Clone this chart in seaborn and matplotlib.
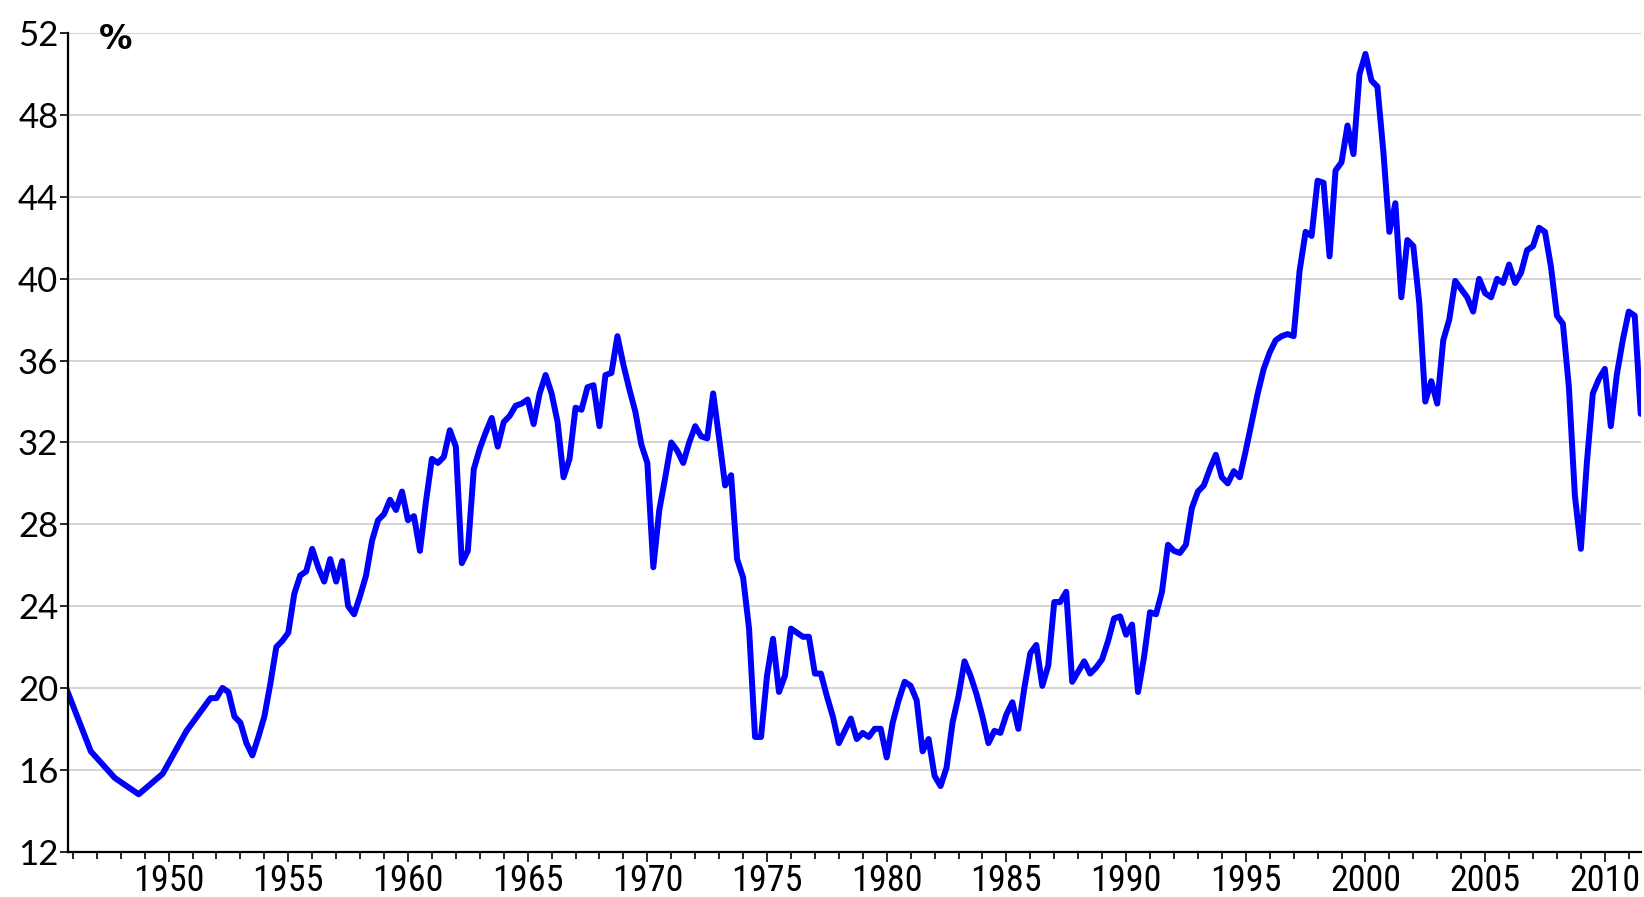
import numpy as np
import pandas as pd
import matplotlib
matplotlib.use("Agg")
from matplotlib import pyplot as plt
from matplotlib import font_manager
from matplotlib.ticker import MultipleLocator
import seaborn as sns

# annual readings (plotted at Q4) before quarterly data starts
annual_years = [1945.75, 1946.75, 1947.75, 1948.75, 1949.75, 1950.75]
annual_vals = [19.9, 16.9, 15.6, 14.8, 15.8, 17.9]

# quarterly readings from 1951 Q4 to 2011 Q3
quarter_start = 1951.75
quarter_vals = [
    19.5,
    19.5, 20.0, 19.8, 18.6,   # 1952
    18.3, 17.3, 16.7, 17.6,   # 1953
    18.6, 20.2, 22.0, 22.3,   # 1954
    22.7, 24.6, 25.5, 25.7,   # 1955
    26.8, 25.9, 25.2, 26.3,   # 1956
    25.2, 26.2, 24.0, 23.6,   # 1957
    24.5, 25.5, 27.2, 28.2,   # 1958
    28.5, 29.2, 28.7, 29.6,   # 1959
    28.2, 28.4, 26.7, 29.1,   # 1960
    31.2, 31.0, 31.3, 32.6,   # 1961
    31.8, 26.1, 26.7, 30.7,   # 1962
    31.7, 32.5, 33.2, 31.8,   # 1963
    33.0, 33.3, 33.8, 33.9,   # 1964
    34.1, 32.9, 34.4, 35.3,   # 1965
    34.4, 33.0, 30.3, 31.2,   # 1966
    33.7, 33.6, 34.7, 34.8,   # 1967
    32.8, 35.3, 35.4, 37.2,   # 1968
    35.8, 34.6, 33.5, 31.9,   # 1969
    31.0, 25.9, 28.7, 30.3,   # 1970
    32.0, 31.6, 31.0, 32.0,   # 1971
    32.8, 32.3, 32.2, 34.4,   # 1972
    32.2, 29.9, 30.4, 26.3,   # 1973
    25.4, 22.9, 17.6, 17.6,   # 1974
    20.6, 22.4, 19.8, 20.6,   # 1975
    22.9, 22.7, 22.5, 22.5,   # 1976
    20.7, 20.7, 19.6, 18.6,   # 1977
    17.3, 17.9, 18.5, 17.5,   # 1978
    17.8, 17.6, 18.0, 18.0,   # 1979
    16.6, 18.3, 19.4, 20.3,   # 1980
    20.1, 19.4, 16.9, 17.5,   # 1981
    15.7, 15.2, 16.1, 18.3,   # 1982
    19.6, 21.3, 20.6, 19.7,   # 1983
    18.6, 17.3, 17.9, 17.8,   # 1984
    18.7, 19.3, 18.0, 20.0,   # 1985
    21.7, 22.1, 20.1, 21.1,   # 1986
    24.2, 24.2, 24.7, 20.3,   # 1987
    20.8, 21.3, 20.7, 21.0,   # 1988
    21.4, 22.3, 23.4, 23.5,   # 1989
    22.6, 23.1, 19.8, 21.5,   # 1990
    23.7, 23.6, 24.7, 27.0,   # 1991
    26.7, 26.6, 27.0, 28.8,   # 1992
    29.6, 29.9, 30.7, 31.4,   # 1993
    30.3, 30.0, 30.6, 30.3,   # 1994
    31.6, 33.0, 34.4, 35.6,   # 1995
    36.4, 37.0, 37.2, 37.3,   # 1996
    37.2, 40.4, 42.3, 42.1,   # 1997
    44.8, 44.7, 41.1, 45.3,   # 1998
    45.7, 47.5, 46.1, 50.0,   # 1999
    51.0, 49.7, 49.4, 46.2,   # 2000
    42.3, 43.7, 39.1, 41.9,   # 2001
    41.6, 38.8, 34.0, 35.0,   # 2002
    33.9, 37.0, 38.0, 39.9,   # 2003
    39.5, 39.1, 38.4, 40.0,   # 2004
    39.3, 39.1, 40.0, 39.8,   # 2005
    40.7, 39.8, 40.3, 41.4,   # 2006
    41.6, 42.5, 42.3, 40.6,   # 2007
    38.2, 37.8, 34.7, 29.4,   # 2008
    26.8, 31.0, 34.4, 35.1,   # 2009
    35.6, 32.8, 35.3, 37.0,   # 2010
    38.4, 38.2, 33.4,         # 2011
]

quarter_years = quarter_start + 0.25 * np.arange(len(quarter_vals))
df = pd.DataFrame({
    "year": np.concatenate([annual_years, quarter_years]),
    "pct": annual_vals + quarter_vals,
})

sns.set_theme(style="white")

# narrow face for the year labels if there is one
installed = {f.name for f in font_manager.fontManager.ttflist}
narrow = [n for n in ["Roboto Condensed", "Liberation Sans Narrow", "DejaVu Sans Condensed"]
          if n in installed]
if narrow:
    plt.rcParams["font.family"] = [narrow[0], "DejaVu Sans"]
    xsize = 26
else:
    plt.rcParams["font.family"] = ["DejaVu Sans"]
    xsize = 20
yfont = "Lato" if "Lato" in installed else "DejaVu Sans"

fig = plt.figure(figsize=(16.44, 8.97), dpi=100)
ax = fig.add_axes([0.0414, 0.0507, 0.9566, 0.912])

sns.lineplot(data=df, x="year", y="pct", ax=ax, color="#0000ff", linewidth=4.3,
             sort=False, estimator=None)

ax.set_xlim(1945.8, 2011.5)
ax.set_ylim(12, 52)
ax.yaxis.set_major_locator(MultipleLocator(4))
ax.xaxis.set_minor_locator(MultipleLocator(1))
ax.set_xticks([1950, 1955, 1960, 1965, 1970, 1975, 1980, 1985, 1990, 1995, 2000, 2005, 2010])
ax.grid(axis="y", color="#cccccc", linewidth=1.2)
ax.grid(axis="x", visible=False)
ax.set_axisbelow(True)

for s in ["top", "right"]:
    ax.spines[s].set_visible(False)
for s in ["left", "bottom"]:
    ax.spines[s].set_color("black")
    ax.spines[s].set_linewidth(1.6)

ax.tick_params(axis="y", which="major", direction="out", length=6, width=1.2,
               color="black", pad=1, left=True)
ax.tick_params(axis="x", which="major", direction="out", length=7, width=1.2,
               color="black", labelsize=xsize, pad=1, bottom=True)
ax.tick_params(axis="x", which="minor", direction="out", length=5, width=1.2,
               color="black", bottom=True)
for lab in ax.get_yticklabels():
    lab.set_fontfamily(yfont)
    lab.set_fontsize(25)
    lab.set_color("black")
for lab in ax.get_xticklabels():
    lab.set_color("black")

ax.set_xlabel("")
ax.set_ylabel("")
ax.text(0.03, 0.993, "%", transform=ax.transAxes, fontsize=24, fontweight="bold",
        family="DejaVu Sans", ha="center", va="center", color="black")

fig.savefig("out.png", dpi=100)
